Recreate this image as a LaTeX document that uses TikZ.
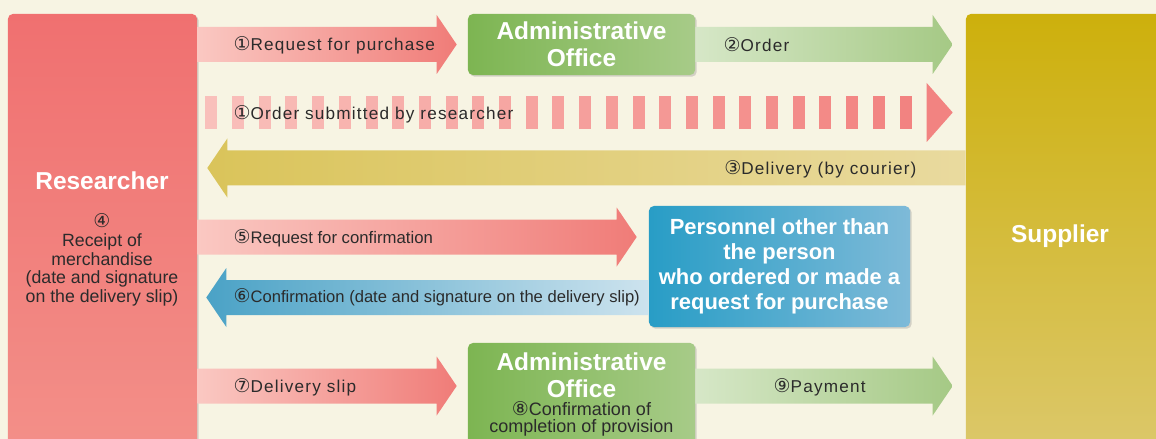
\documentclass[tikz,border=0pt]{standalone}
\usepackage{fontspec}
\setmainfont{Liberation Sans}
\newfontfamily\spacedfont[LetterSpace=7]{Liberation Sans}
\newfontfamily\circfont{DejaVu Sans}
\usetikzlibrary{calc,shadows}

\definecolor{bgcream}{HTML}{F7F4E3}
\definecolor{resTop}{HTML}{F07070}
\definecolor{resBot}{HTML}{F39089}
\definecolor{supTop}{HTML}{CDB00C}
\definecolor{supBot}{HTML}{DCC86C}
\definecolor{admL}{HTML}{7DB552}
\definecolor{admR}{HTML}{A7CB88}
\definecolor{perL}{HTML}{289DC6}
\definecolor{perR}{HTML}{7EBAD8}
\definecolor{pinkL}{HTML}{FAC8C2}
\definecolor{pinkR}{HTML}{F07C78}
\definecolor{grnL}{HTML}{D6E7C7}
\definecolor{grnR}{HTML}{A5C985}
\definecolor{yelL}{HTML}{DAC45A}
\definecolor{yelR}{HTML}{E9DA9F}
\definecolor{bluL}{HTML}{4AA2C6}
\definecolor{bluR}{HTML}{CDE3EE}
\definecolor{stripeL}{HTML}{F9C0BB}
\definecolor{stripeR}{HTML}{F28381}
\definecolor{textgray}{HTML}{2B2B2B}

\newcommand{\cnum}[1]{{\circfont\fontsize{13.5}{13}\selectfont #1}}

\newcommand{\arrowR}[4]{%
  \shade[left color=#3, right color=#4]
    ($(#1)+(0,-17.5)$) -- ($(#2)+(-20,-17.5)$) -- ($(#2)+(-20,-29.5)$) -- (#2)
    -- ($(#2)+(-20,29.5)$) -- ($(#2)+(-20,17.5)$) -- ($(#1)+(0,17.5)$) -- cycle;}
\newcommand{\arrowL}[4]{%
  \shade[left color=#3, right color=#4]
    ($(#1)+(0,-17.5)$) -- ($(#2)+(20,-17.5)$) -- ($(#2)+(20,-29.5)$) -- (#2)
    -- ($(#2)+(20,29.5)$) -- ($(#2)+(20,17.5)$) -- ($(#1)+(0,17.5)$) -- cycle;}

\begin{document}
\begin{tikzpicture}[x=0.025cm, y=-0.025cm,
  box/.style={rounded corners=3.5pt, inner sep=0,
    drop shadow={opacity=0.3, shadow xshift=1.2pt, shadow yshift=-1.2pt}},
  title/.style={text=white, font=\fontsize{17.4}{19.2}\selectfont\bfseries, align=center, inner sep=0},
  lbl/.style={text=textgray, font=\spacedfont\fontsize{12.2}{13.3}\selectfont, anchor=west, inner sep=0},
  plain/.style={text=textgray, align=center, inner sep=0}]

\clip (0,0) rectangle (1156,439);
\fill[bgcream] (0,0) rectangle (1156,439);

\node[box, top color=resTop, bottom color=resBot, minimum width=4.725cm, minimum height=11.15cm] (researcher) at (102.5,237) {};
\node[box, top color=supTop, bottom color=supBot, minimum width=5.1cm, minimum height=11.15cm] (supplier) at (1068,237) {};
\node[box, title, left color=admL, right color=admR, minimum width=5.675cm, minimum height=1.525cm] (admin1) at (581.5,44.5) {Administrative\\Office};
\node[box, left color=admL, right color=admR, minimum width=5.675cm, minimum height=2.925cm] (admin2) at (581.5,401.5) {};
\node[box, title, left color=perL, right color=perR, minimum width=6.525cm, minimum height=3.025cm,
  font=\fontsize{15.6}{17.8}\selectfont\bfseries] (personnel) at (779.5,266.5)
  {Personnel other than\\the person\\who ordered or made a\\request for purchase};

\node[title] (researcherlbl) at (102,181) {Researcher};
\node[plain, font=\fontsize{12.6}{13.3}\selectfont] (receipt) at (102,260)
  {\cnum{④}\\Receipt of\\merchandise\\(date and signature\\on the delivery slip)};
\node[title] (supplierlbl) at (1060,236) {Supplier};
\node[title] (admin2lbl) at (581.5,375) {Administrative\\Office};
\node[plain, font=\fontsize{12.8}{12}\selectfont] (provision) at (581.5,418.5)
  {\cnum{⑧}Confirmation of\\completion of provision};

\coordinate (reqS) at (researcher.east |- admin1.west);
\coordinate (reqE) at ($(admin1.west)+(-11,0)$);
\coordinate (ordS) at (admin1.east);
\coordinate (ordE) at ($(supplier.west |- admin1.east)+(-13,0)$);
\coordinate (subS) at ($(researcher.east |- 0,112.5)+(8,0)$);
\coordinate (subE) at ($(supplier.west |- 0,112.5)+(-13,0)$);
\coordinate (delS) at (supplier.west |- 0,168);
\coordinate (delE) at ($(researcher.east |- 0,168)+(10,0)$);
\coordinate (cfmReqS) at (researcher.east |- 0,237);
\coordinate (cfmReqE) at ($(personnel.west |- 0,237)+(-12,0)$);
\coordinate (cfmS) at (personnel.west |- 0,297.5);
\coordinate (cfmE) at ($(researcher.east |- 0,297.5)+(9,0)$);
\coordinate (slipS) at (researcher.east |- 0,386);
\coordinate (slipE) at ($(admin2.west |- 0,386)+(-11,0)$);
\coordinate (payS) at (admin2.east |- 0,386);
\coordinate (payE) at ($(supplier.west |- 0,386)+(-13,0)$);

\arrowR{reqS}{reqE}{pinkL}{pinkR}
\arrowR{ordS}{ordE}{grnL}{grnR}
\arrowL{delS}{delE}{yelL}{yelR}
\arrowR{cfmReqS}{cfmReqE}{pinkL}{pinkR}
\arrowL{cfmS}{cfmE}{bluL}{bluR}
\arrowR{slipS}{slipE}{pinkL}{pinkR}
\arrowR{payS}{payE}{grnL}{grnR}

\foreach \k in {0,...,26} {
  \pgfmathtruncatemacro{\mixp}{100-\k*100/26}
  \fill[stripeL!\mixp!stripeR] ($(subS)+({26.7*\k},-16.5)$) rectangle ++(12,33);
}
\fill[stripeR] ($(subE)+(-26,-29.5)$) -- (subE) -- ($(subE)+(-26,29.5)$) -- cycle;

\node[lbl] (reqLbl) at ($(reqS)+(36,0.5)$) {\cnum{①}Request for purchase};
\node[lbl] (ordLbl) at ($(ordS)+(28,0.5)$) {\cnum{②}Order};
\node[lbl] (subLbl) at ($(subS)+(28,1.5)$) {\cnum{①}Order submitted by researcher};
\node[lbl, anchor=east] (delLbl) at ($(delS)+(-49,1)$) {\cnum{③}Delivery (by courier)};
\node[lbl, font=\fontsize{11.9}{13.3}\selectfont] (cfmReqLbl) at ($(cfmReqS)+(36,1)$) {\cnum{⑤}Request for confirmation};
\node[lbl, font=\fontsize{11.8}{13.3}\selectfont] (cfmLbl) at ($(cfmE)+(27,0)$) {\cnum{⑥}Confirmation (date and signature on the delivery slip)};
\node[lbl] (slipLbl) at ($(slipS)+(36,1)$) {\cnum{⑦}Delivery slip};
\node[lbl] (payLbl) at ($(payS)+(78,1)$) {\cnum{⑨}Payment};

\end{tikzpicture}
\end{document}
